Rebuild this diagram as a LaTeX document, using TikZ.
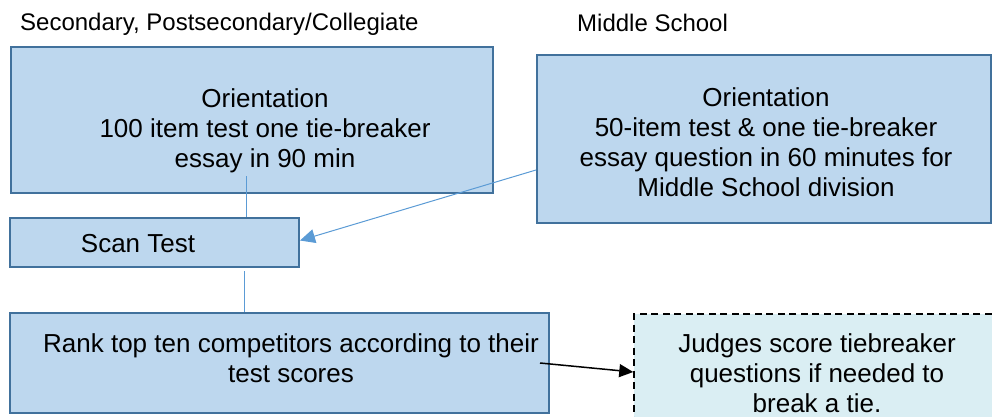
\documentclass[tikz,border=0pt]{standalone}
\usepackage{fontspec}
\setmainfont{Liberation Sans}
\usetikzlibrary{arrows.meta}
\definecolor{boxfill}{HTML}{BDD7EE}
\definecolor{boxline}{HTML}{41719C}
\definecolor{tiefill}{HTML}{DAEEF3}
\definecolor{linkline}{HTML}{5B9BD5}

\begin{document}
\begin{tikzpicture}[x=1pt,y=-1pt]
% Node styles ---
\tikzstyle{stage} = [rectangle, line width=2pt, inner sep=0pt, draw=boxline, fill=boxfill]
\tikzstyle{judge} = [rectangle, line width=1.5pt, inner sep=0pt, dash pattern=on 7pt off 4.5pt, draw=black, fill=tiefill]
\tikzstyle{txt} = [align=center, inner sep=0pt, font=\fontsize{26}{30}\selectfont]
\tikzstyle{head} = [anchor=base west, inner sep=0pt, font=\fontsize{24}{28}\selectfont]
\tikzstyle{link} = [line width=1pt, draw=linkline]
\tikzstyle{con} = [-{Triangle[length=15pt,width=14pt]}, line width=1pt, draw=linkline]
\tikzstyle{tie} = [-{Triangle[length=14pt,width=13pt]}, line width=1.5pt, draw=black]
% Begin Figure ---
\clip (0,0) rectangle (992,417);
% Headings
\node at (20,31) [head] (hsec) {Secondary, Postsecondary/Collegiate};
\node at (577,32) [head] (hmid) {Middle School};
% Boxes
\node at (252,120) [stage, minimum width=482pt, minimum height=146pt] (ori1) {};
\node at (764,139) [stage, minimum width=454pt, minimum height=168pt] (ori2) {};
\node at (154.5,242.5) [stage, minimum width=289pt, minimum height=49pt] (scan) {};
\node at (279.5,363) [stage, minimum width=539pt, minimum height=100pt] (rank) {};
\node at (818,372) [judge, minimum width=368pt, minimum height=116pt] (tie) {};
% Texts
\node at (265,131) [txt] (ori1txt) {Orientation\\100 item test one tie-breaker\\essay in 90 min};
\node at (766,142) [txt] (ori2txt) {Orientation\\50-item test \& one tie-breaker\\essay question in 60 minutes for\\Middle School division};
\node at (138,244) [txt] (scantxt) {Scan Test};
\node at (291,358) [txt] (ranktxt) {Rank top ten competitors according to their\\test scores};
\node at (817,373) [txt] (tietxt) {Judges score tiebreaker\\questions if needed to\\break a tie.};
% Paths
\draw [link] ([xshift=-6pt,yshift=18pt]ori1.south) -- ([xshift=-6pt]ori1.south |- scan.north);
\draw [link] ([xshift=90pt,yshift=-3pt]scan.south) -- ([xshift=90pt]scan.south |- rank.north);
\draw [con] ([yshift=-31pt]ori2.west) -- ([yshift=2pt]scan.east);
\draw [tie] ([xshift=-10pt]rank.east) -- (tie.west);
\end{tikzpicture}
\end{document}
